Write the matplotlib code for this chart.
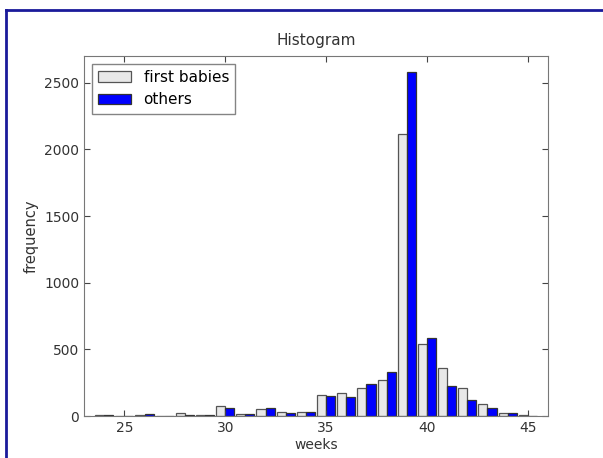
import matplotlib
matplotlib.use('Agg')
import matplotlib.pyplot as plt
from matplotlib.lines import Line2D
import numpy as np

# 데이터 (임신 주수별 빈도)
weeks = np.array([24, 25, 26, 27, 28, 29, 30, 31, 32, 33, 34, 35,
                  36, 37, 38, 39, 40, 41, 42, 43, 44, 45])
first_babies = [5, 0, 8, 0, 25, 8, 75, 12, 55, 28, 28, 157,
                175, 208, 270, 2114, 538, 362, 208, 88, 25, 8]
others = [4, 0, 15, 0, 8, 10, 60, 12, 60, 20, 28, 150,
          145, 240, 332, 2580, 583, 227, 120, 58, 20, 2]
labels = ['first babies', 'others']

plt.rcParams['font.family'] = ['DejaVu Sans']
plt.rcParams['font.size'] = 10

fig = plt.figure(figsize=(6.03, 4.58), dpi=100)
ax = fig.add_axes([84/603, 42/458, 464/603, 360/458])

width = 0.45
ax.bar(weeks - width, first_babies, width=width, align='edge',
       color='#e8e8e8', edgecolor='#555555', linewidth=0.9, label=labels[0])
ax.bar(weeks, others, width=width, align='edge',
       color='#0000ff', edgecolor='#333333', linewidth=0.9, label=labels[1])

ax.set_xlim(23, 46)
ax.set_ylim(0, 2700)
ax.set_xticks([25, 30, 35, 40, 45])
ax.set_yticks([0, 500, 1000, 1500, 2000, 2500])
ax.tick_params(direction='in', top=True, right=True, length=4,
               colors='#444444', labelcolor='#333333')
for s in ax.spines.values():
    s.set_color('#777777')

ax.set_title('Histogram', color='#333333', fontsize=11, pad=8)
ax.set_xlabel('weeks', color='#333333', labelpad=2)
ax.set_ylabel('frequency', color='#333333', fontsize=10.5)

leg = ax.legend(loc='upper left', fancybox=False, frameon=True,
                borderaxespad=0.5, handlelength=2.2, fontsize=11)
leg.get_frame().set_edgecolor('#666666')

# 바깥 테두리 (파란 선)
fig.add_artist(Line2D([6/603, 1], [1 - 10/458, 1 - 10/458],
                      transform=fig.transFigure, color='#1a1a9a', lw=2))
fig.add_artist(Line2D([6/603, 6/603], [0, 1 - 10/458],
                      transform=fig.transFigure, color='#1a1a9a', lw=2))

fig.savefig('out.png', dpi=100)
